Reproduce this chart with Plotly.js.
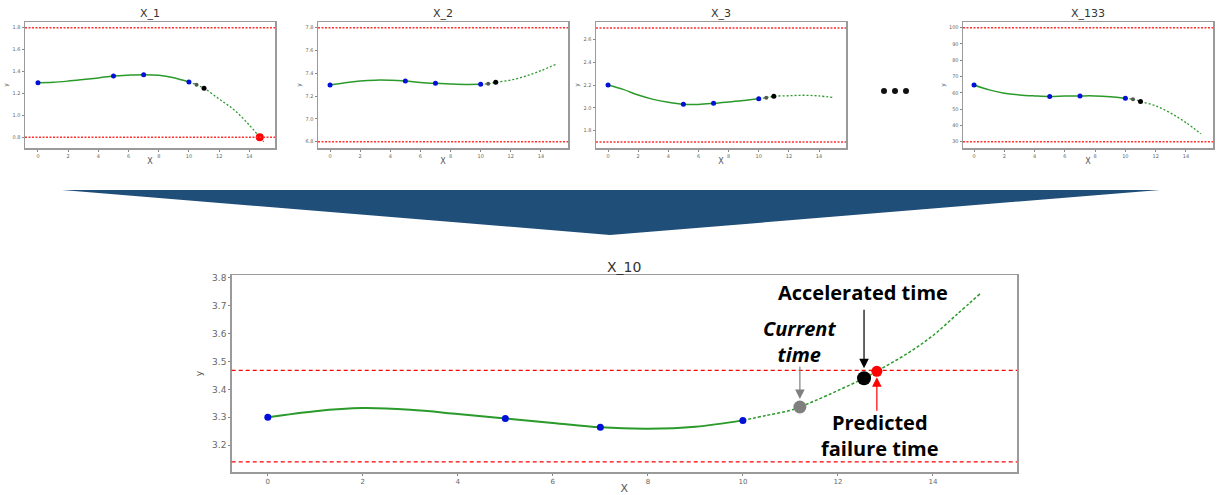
<!DOCTYPE html>
<html><head><meta charset="utf-8">
<script src="https://cdn.plot.ly/plotly-3.0.1.min.js"></script>
<style>body{margin:0;background:#fff}#c{width:1220px;height:495px}</style>
</head><body><div id="c"></div>
<script>
// ---------- data ----------
const titles = ['X_1','X_2','X_3','X_133','X_10'];

// X_1
const x1Solid = [0,1,2,3,4,5,6,7,8,9,10];
const y1Solid = [1.298,1.302,1.313,1.327,1.342,1.359,1.367,1.371,1.366,1.343,1.304];
const x1Dot = [10,10.5,11,12,13,14,14.69,14.95];
const y1Dot = [1.304,1.279,1.247,1.149,1.049,0.911,0.80,0.759];
const x1Blue = [0,5,7,10]; const y1Blue = [1.298,1.359,1.371,1.304];
const x1Cur = [10.5], y1Cur = [1.279];
const x1Acc = [11], y1Acc = [1.247];
const x1Fail = [14.69], y1Fail = [0.80];
const thr1 = [1.8, 0.8];
const ticks1 = [1.8,1.6,1.4,1.2,1.0,0.8];

// X_2
const x2Solid = [0,1,2,3,4,5,6,7,8,9,10];
const y2Solid = [7.297,7.318,7.333,7.340,7.339,7.332,7.320,7.312,7.306,7.302,7.303];
const x2Dot = [10,10.5,11,12,13,14,15];
const y2Dot = [7.303,7.309,7.321,7.341,7.376,7.423,7.479];
const x2Blue = [0,5,7,10]; const y2Blue = [7.297,7.332,7.312,7.303];
const x2Cur = [10.5], y2Cur = [7.309];
const x2Acc = [11], y2Acc = [7.321];
const thr2 = [7.8, 6.8];
const ticks2 = [7.8,7.6,7.4,7.2,7.0,6.8];

// X_3
const x3Solid = [0,1,2,3,4,5,6,7,8,9,10];
const y3Solid = [2.20,2.162,2.112,2.074,2.048,2.031,2.030,2.039,2.051,2.064,2.08];
const x3Dot = [10,10.5,11,12,13,14,15];
const y3Dot = [2.08,2.089,2.101,2.106,2.11,2.104,2.089];
const x3Blue = [0,5,7,10]; const y3Blue = [2.20,2.031,2.039,2.08];
const x3Cur = [10.5], y3Cur = [2.089];
const x3Acc = [11], y3Acc = [2.101];
const thr3 = [2.7, 1.7];
const ticks3 = [2.6,2.4,2.2,2.0,1.8];

// X_133
const x4Solid = [0,1,2,3,4,5,6,7,8,9,10];
const y4Solid = [64.8,61.8,59.8,58.7,58.1,57.7,58.0,58.1,58.1,57.6,56.7];
const x4Dot = [10,10.5,11,12,13,14,15];
const y4Dot = [56.7,56.1,54.6,52.0,47.5,41.7,34.8];
const x4Blue = [0,5,7,10]; const y4Blue = [64.8,57.7,58.1,56.7];
const x4Cur = [10.5], y4Cur = [56.1];
const x4Acc = [11], y4Acc = [54.6];
const thr4 = [100, 30];
const ticks4 = [100,90,80,70,60,50,40,30];

// X_10 (main)
const x5Solid = [0,1,2,3,4,5,6,7,8,9,10];
const y5Solid = [3.300,3.322,3.333,3.327,3.312,3.296,3.280,3.264,3.259,3.266,3.289];
const x5Dot = [10,10.5,11,11.2,11.5,12,12.55,12.82,13.5,14,14.5,15];
const y5Dot = [3.289,3.307,3.325,3.337,3.358,3.396,3.44,3.465,3.533,3.593,3.668,3.744];
const x5Blue = [0,5,7,10]; const y5Blue = [3.300,3.296,3.264,3.289];
const x5Cur = [11.2], y5Cur = [3.337];
const x5Acc = [12.55], y5Acc = [3.44];
const x5Fail = [12.82], y5Fail = [3.465];
const thr5 = [3.468, 3.14];
const ticks5 = [3.2,3.3,3.4,3.5,3.6,3.7,3.8];
const xTicks = [0,2,4,6,8,10,12,14];

const labelAcc = '<b>Accelerated time</b>';
const labelCur = '<b><i>Current</i></b><br><b><i>time</i></b>';
const labelFail = '<b>Predicted</b><br><b>failure time</b>';

// ---------- helpers ----------
const W = 1220, H = 495;
const PX = p => p / W, PY = p => 1 - p / H;
const GREEN = '#2a9a2a';

const traces = [];
function addPanel(n, xs, ys, xd, yd, xb, yb, xc, yc, xa, ya, xf, yf, big) {
  const xa_ = n === 1 ? 'x' : 'x' + n, ya_ = n === 1 ? 'y' : 'y' + n;
  traces.push({x: xs, y: ys, xaxis: xa_, yaxis: ya_, mode: 'lines', line: {color: GREEN, width: big ? 2 : 1.5, shape: 'spline'}, hoverinfo: 'skip'});
  traces.push({x: xd, y: yd, xaxis: xa_, yaxis: ya_, mode: 'lines', line: {color: GREEN, width: big ? 1.5 : 1.3, dash: big ? '3px,2px' : '2px,2px', shape: 'spline'}, hoverinfo: 'skip'});
  traces.push({x: xb, y: yb, xaxis: xa_, yaxis: ya_, mode: 'markers', marker: {color: '#0010d8', size: big ? 7 : 5}});
  traces.push({x: xc, y: yc, xaxis: xa_, yaxis: ya_, mode: 'markers', marker: {color: big ? '#7f7f7f' : '#555', size: big ? 13 : 4}});
  traces.push({x: xa, y: ya, xaxis: xa_, yaxis: ya_, mode: 'markers', marker: {color: '#000', size: big ? 14 : 5}});
  if (xf) traces.push({x: xf, y: yf, xaxis: xa_, yaxis: ya_, mode: 'markers', marker: {color: '#ff0000', size: big ? 11 : 8}});
}
addPanel(1, x1Solid, y1Solid, x1Dot, y1Dot, x1Blue, y1Blue, x1Cur, y1Cur, x1Acc, y1Acc, x1Fail, y1Fail, false);
addPanel(2, x2Solid, y2Solid, x2Dot, y2Dot, x2Blue, y2Blue, x2Cur, y2Cur, x2Acc, y2Acc, null, null, false);
addPanel(3, x3Solid, y3Solid, x3Dot, y3Dot, x3Blue, y3Blue, x3Cur, y3Cur, x3Acc, y3Acc, null, null, false);
addPanel(4, x4Solid, y4Solid, x4Dot, y4Dot, x4Blue, y4Blue, x4Cur, y4Cur, x4Acc, y4Acc, null, null, false);
addPanel(5, x5Solid, y5Solid, x5Dot, y5Dot, x5Blue, y5Blue, x5Cur, y5Cur, x5Acc, y5Acc, x5Fail, y5Fail, true);

const layout = {
  width: W, height: H, margin: {l: 0, r: 0, t: 0, b: 0},
  paper_bgcolor: '#fff', plot_bgcolor: '#fff', showlegend: false,
  font: {family: 'DejaVu Sans, sans-serif', color: '#555'},
  shapes: [], annotations: []
};

// panel geometry [left, right, top, bottom] in px
const geo = [[25,275,22,148],[318,568,22,148],[596,846,22,148],[963,1213,22,148],[231.7,1017,275,472]];
const xr = [[-0.86,15.7],[-0.8,15.8],[-0.8,15.79],[-0.73,15.79],[-0.76,15.77]];
const yr = [[0.702,1.852],[6.745,7.85],[1.648,2.752],[26.1,103.5],[3.104,3.81]];
const yt = [ticks1, ticks2, ticks3, ticks4, ticks5];
const yf = ['.1f', '.1f', '.1f', 'd', '.1f'];
const thr = [thr1, thr2, thr3, thr4, thr5];

for (let i = 0; i < 5; i++) {
  const n = i + 1, big = i === 4;
  const g = geo[i];
  const xk = n === 1 ? 'xaxis' : 'xaxis' + n, yk = n === 1 ? 'yaxis' : 'yaxis' + n;
  const xid = n === 1 ? 'x' : 'x' + n, yid = n === 1 ? 'y' : 'y' + n;
  layout[xk] = {
    domain: [PX(g[0]), PX(g[1])], anchor: yid, range: xr[i], tickvals: xTicks,
    showgrid: false, zeroline: false, showline: true, mirror: true,
    linecolor: '#9a9a9a', linewidth: 1.5,
    ticks: 'outside', ticklen: 2, tickcolor: '#888',
    tickfont: {size: big ? 7 : 5, color: '#666'},
    title: {text: 'X', font: {size: big ? 11 : 8, color: '#555'}, standoff: big ? 2 : 1}
  };
  layout[yk] = {
    domain: [PY(g[3]), PY(g[2])], anchor: xid, range: yr[i], tickvals: yt[i], tickformat: yf[i],
    showgrid: false, zeroline: false, showline: true, mirror: true,
    linecolor: '#9a9a9a', linewidth: 1.5,
    ticks: 'outside', ticklen: 2, tickcolor: '#888',
    tickfont: {size: big ? 9 : 5, color: '#666'},
    title: {text: 'y', font: {size: big ? 9 : 6, color: '#555'}, standoff: big ? 8 : 3}
  };
  thr[i].forEach(v => layout.shapes.push({type: 'line', xref: xid + ' domain', yref: yid, x0: 0, x1: 1, y0: v, y1: v,
    line: {color: big ? '#ff0000' : '#ff3030', width: big ? 1.2 : 1.5, dash: big ? '4px,3px' : '2px,1.5px'}}));
  layout.annotations.push({xref: 'paper', yref: 'paper', x: PX((g[0] + g[1]) / 2), y: PY(g[2] - 8),
    text: titles[i], showarrow: false, font: {size: big ? 14 : 11, color: '#333'}, xanchor: 'center', yanchor: 'middle'});
}

// big blue chevron
layout.shapes.push({type: 'path', xref: 'paper', yref: 'paper',
  path: `M ${PX(62)},${PY(190)} L ${PX(1160)},${PY(190)} L ${PX(610)},${PY(235)} Z`,
  fillcolor: '#1f4e79', line: {width: 0}});
// ellipsis dots
[884, 895, 906].forEach(cx => layout.shapes.push({type: 'circle', xref: 'paper', yref: 'paper',
  x0: PX(cx - 3), x1: PX(cx + 3), y0: PY(94), y1: PY(88), fillcolor: '#111', line: {width: 0}}));

// text labels in main chart
const tf = {family: 'Open Sans, Noto Sans, sans-serif', size: 20, color: '#000'};
const lab = (x, y, t) => ({xref: 'paper', yref: 'paper', x: PX(x), y: PY(y), text: t, showarrow: false, font: tf,
  xanchor: 'center', yanchor: 'middle', align: 'center'});
layout.annotations.push(lab(863, 292, labelAcc));
layout.annotations.push(lab(800, 341, labelCur));
layout.annotations.push(lab(880, 435, labelFail));
// arrows to points
layout.annotations.push({xref: 'x5', yref: 'y5', x: x5Acc[0], y: y5Acc[0], text: '', showarrow: true, ax: 0, ay: -70,
  arrowhead: 2, arrowsize: 1.6, arrowwidth: 1.2, arrowcolor: '#000', standoff: 10});
layout.annotations.push({xref: 'x5', yref: 'y5', x: x5Cur[0], y: y5Cur[0], text: '', showarrow: true, ax: 0, ay: -42,
  arrowhead: 2, arrowsize: 1.6, arrowwidth: 1.2, arrowcolor: '#808080', standoff: 8});
layout.annotations.push({xref: 'x5', yref: 'y5', x: x5Fail[0], y: y5Fail[0], text: '', showarrow: true, ax: 0, ay: 41,
  arrowhead: 2, arrowsize: 1.6, arrowwidth: 1.2, arrowcolor: '#ff0000', standoff: 6});

Plotly.newPlot('c', traces, layout, {staticPlot: true, displayModeBar: false});
</script>
</body></html>
